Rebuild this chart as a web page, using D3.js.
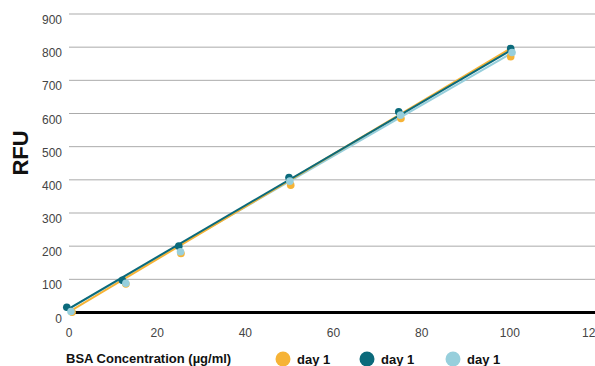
<!DOCTYPE html>
<html>
<head>
<meta charset="utf-8">
<script src="https://cdn.jsdelivr.net/npm/d3@7"></script>
<style>
  body { margin: 0; background: #fff; }
  text { font-family: "Liberation Sans", Arial, sans-serif; }
</style>
</head>
<body>
<svg id="chart" width="595" height="366"></svg>
<script>
// series
var seriesNames = ["day 1", "day 1", "day 1"];
var seriesColors = ["#f6b336", "#0b6a7b", "#97cfdc"];

var orangeX = [0.7, 12.9, 25.4, 50.3, 75.3, 100.2];
var orangeY = [1, 86, 178, 384, 585, 771];
var darkX = [-0.5, 12.1, 24.9, 49.9, 74.8, 100.2];
var darkY = [16, 97, 200, 407, 605, 796];
var lightX = [0.45, 12.9, 25.3, 50.1, 75.2, 100.5];
var lightY = [3, 88, 183, 396, 595, 784];

// trend lines, start and end
var orangeLine = [[0, 2], [100, 795]];
var darkLine = [[0, 12], [100, 789]];
var lightLine = [[0, 11], [100, 779]];

var xTicks = [0, 20, 40, 60, 80, 100, 120];
var yTicks = [0, 100, 200, 300, 400, 500, 600, 700, 800, 900];

var svg = d3.select("#chart");
var margin = {top: 14, right: -3, bottom: 53.5, left: 69};
var width = 595, height = 366;

var x = d3.scaleLinear()
    .domain([0, 120])
    .range([margin.left, width - margin.right]);

var y = d3.scaleLinear()
    .domain([0, 900])
    .range([height - margin.bottom, margin.top]);

// gridlines
svg.append("g")
    .selectAll("line").data(yTicks.filter(d => d > 0)).enter()
    .append("line")
    .attr("x1", x(0)).attr("x2", width)
    .attr("y1", d => y(d)).attr("y2", d => y(d))
    .attr("stroke", "#ababab")
    .attr("stroke-width", 1);

// y labels
svg.append("g")
    .selectAll("text").data(yTicks).enter()
    .append("text")
    .attr("x", 62)
    .attr("y", d => y(d) + 10)
    .attr("text-anchor", "end")
    .attr("font-size", 12)
    .attr("fill", "#444")
    .text(d => d);

// x labels (last one runs off the edge, like the original)
svg.append("g")
    .selectAll("text").data(xTicks).enter()
    .append("text")
    .attr("x", d => Math.min(x(d), 592))
    .attr("y", 337)
    .attr("text-anchor", "middle")
    .attr("font-size", 12)
    .attr("fill", "#444")
    .text(d => d);

// baseline
svg.append("line")
    .attr("x1", x(0)).attr("x2", width)
    .attr("y1", y(0)).attr("y2", y(0))
    .attr("stroke", "#000")
    .attr("stroke-width", 3);

var line = d3.line().x(d => x(d[0])).y(d => y(d[1]));

var lines = [lightLine, orangeLine, darkLine];
var lineColors = [seriesColors[2], seriesColors[0], seriesColors[1]];
lines.forEach(function(l, i) {
  svg.append("path")
    .attr("d", line(l))
    .attr("fill", "none")
    .attr("stroke", lineColors[i])
    .attr("stroke-width", 2);
});

var pts = [[orangeX, orangeY], [darkX, darkY], [lightX, lightY]];
pts.forEach(function(p, i) {
  svg.append("g")
    .attr("fill", seriesColors[i])
    .selectAll("circle").data(p[0]).enter()
    .append("circle")
    .attr("cx", d => x(d))
    .attr("cy", (d, j) => y(p[1][j]))
    .attr("r", 3.8);
});

// axis titles
svg.append("text")
    .attr("transform", "translate(28,153) rotate(-90)")
    .attr("text-anchor", "middle")
    .attr("font-size", 22)
    .attr("font-weight", "bold")
    .attr("fill", "#111")
    .text("RFU");

svg.append("text")
    .attr("x", 66)
    .attr("y", 363)
    .attr("font-size", 13)
    .attr("font-weight", "bold")
    .attr("fill", "#111")
    .text("BSA Concentration (µg/ml)");

// legend
var legendX = [283, 367, 453];
var legend = svg.append("g").selectAll("g").data(seriesNames).enter()
    .append("g")
    .attr("transform", (d, i) => "translate(" + legendX[i] + ",359)");
legend.append("circle")
    .attr("r", 7.5)
    .attr("fill", (d, i) => seriesColors[i]);
legend.append("text")
    .attr("x", 14)
    .attr("y", 4.5)
    .attr("font-size", 13)
    .attr("font-weight", "bold")
    .attr("fill", "#111")
    .text(d => d);
</script>
</body>
</html>
